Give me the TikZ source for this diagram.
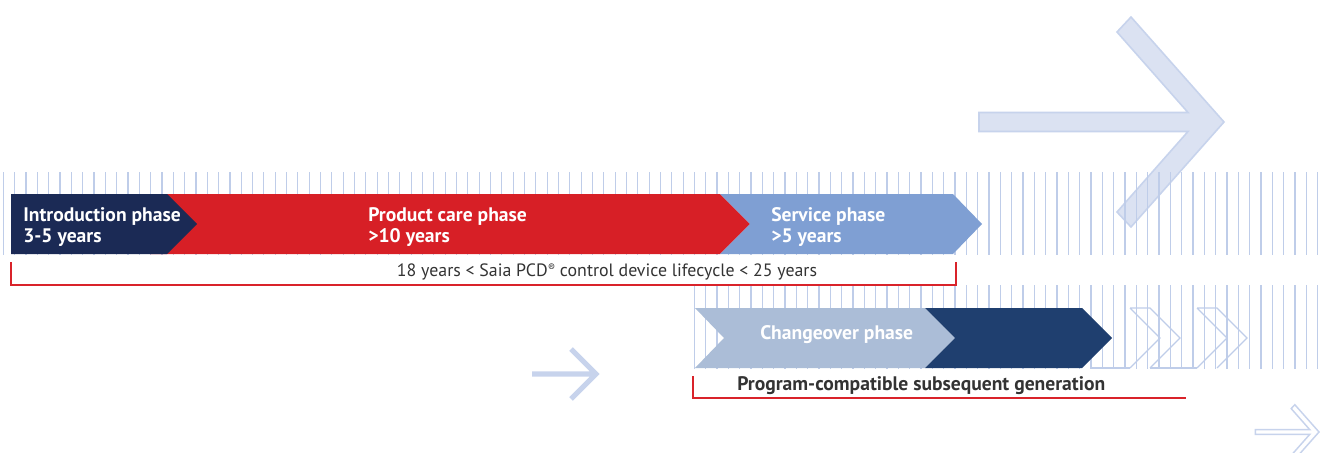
\documentclass[tikz,border=0pt]{standalone}
\usepackage{fontspec}
\setmainfont{PT Sans}
\usepackage{tikz}
\definecolor{introblue}{HTML}{1B2A55}
\definecolor{carered}{HTML}{D71F26}
\definecolor{serviceblue}{HTML}{7F9FD3}
\definecolor{changeblue}{HTML}{ABBDD7}
\definecolor{nextblue}{HTML}{1F3F6F}
\definecolor{stripeblue}{HTML}{BFCDE9}
\definecolor{arrowfill}{HTML}{DBE2F2}
\definecolor{arrowline}{HTML}{C7D3EC}
\definecolor{bracketred}{HTML}{D9232A}
\definecolor{textgray}{HTML}{333333}
\tikzset{stripe/.style={draw=stripeblue,line width=0.9pt},
  phase label/.style={anchor=base west,align=left,text=white,inner sep=0pt,
    font=\fontsize{14.7}{15.75}\selectfont\bfseries},
  bracket/.style={draw=bracketred,line width=1pt},
  bracket label/.style={anchor=base,inner sep=0pt,text=textgray}}

\begin{document}
\begin{tikzpicture}[x=0.75pt,y=-0.75pt]
            \useasboundingbox (0,0) rectangle (1322,453);

            % big arrow top right
            \begin{scope}[shift={(1224,122)}]
            \filldraw[fill=arrowfill,draw=arrowline,line width=1.2pt]
            (-245,-9.5) -- (-36,-9.5) -- (-107,-90) -- (-93,-105) -- (0,0) -- (-93,105)
            -- (-107,90) -- (-36,9.5) -- (-245,9.5) -- cycle;
            \end{scope}

            % stripes
            \foreach \k in {0,...,116}
                \draw[stripe] ({3.3+11.33*\k},172) -- ++(0,83);
            \foreach \k in {61,...,116}
                \draw[stripe] ({3.3+11.33*\k},285) -- ++(0,84);

            % upper bar
            \fill[carered] (150,194) -- (720,194) -- (750,224) -- (720,254) -- (150,254) -- cycle;
            \fill[introblue] (11,194) -- (167,194) -- (197,224) -- (167,254) -- (11,254) -- cycle;
            \fill[serviceblue] (720,194) -- (953,194) -- (982,224) -- (953,254) -- (720,254) -- (750,224) -- cycle;

            \node[phase label] (intro) at (23,242) {Introduction phase\\3-5 years};
            \node[phase label] (care) at (368,242) {Product care phase\\>10 years};
            \node[phase label] (service) at (771,242) {Service phase\\>5 years};

            % lifecycle bracket
            \draw[bracket] (11,262) -- (11,285) -- (956,285) -- (956,262);
            \node[bracket label,font=\fontsize{13.4}{15}\selectfont] (life) at (607,276)
                {18 years < Saia PCD\raisebox{0.45ex}{\fontsize{8}{8}\selectfont®} control device lifecycle < 25 years};

            % lower bar
            \fill[changeblue] (695,308) -- (925,308) -- (955,338) -- (925,368) -- (695,368) -- (724,338) -- cycle;
            \fill[nextblue] (925,308) -- (1082,308) -- (1112,338) -- (1082,368) -- (925,368) -- (955,338) -- cycle;
            \node[phase label] (change) at (760,339) {Changeover phase};

            % outlined chevrons
            \foreach \x in {1130,1197}
                \draw[stripe] (\x,308) -- ++(20,0) -- ++(30,30) -- ++(-30,30)
                    (\x,308) -- ++(30,30) -- ++(-30,30);
            \draw[stripe] (1092,368) -- (1130,368) (1150,368) -- (1197,368);

            % generation bracket
            \draw[bracket] (693,376) -- (693,398) -- (1186,398);
            \node[bracket label,anchor=base west,font=\fontsize{14.7}{16}\selectfont\bfseries] (gen) at (737,390)
                {Program-compatible subsequent generation};

            % small arrows
            \draw[arrowline,line width=3.8pt,line cap=butt] (532,374) -- (595,374)
                (571,349) -- (596,374) -- (571,399);
            \begin{scope}[shift={(1319,432)},scale=0.26]
            \filldraw[fill=white,draw=arrowline,line width=1.1pt]
            (-245,-9.5) -- (-36,-9.5) -- (-107,-90) -- (-93,-105) -- (0,0) -- (-93,105)
            -- (-107,90) -- (-36,9.5) -- (-245,9.5) -- cycle;
            \end{scope}
        \end{tikzpicture}
\end{document}
